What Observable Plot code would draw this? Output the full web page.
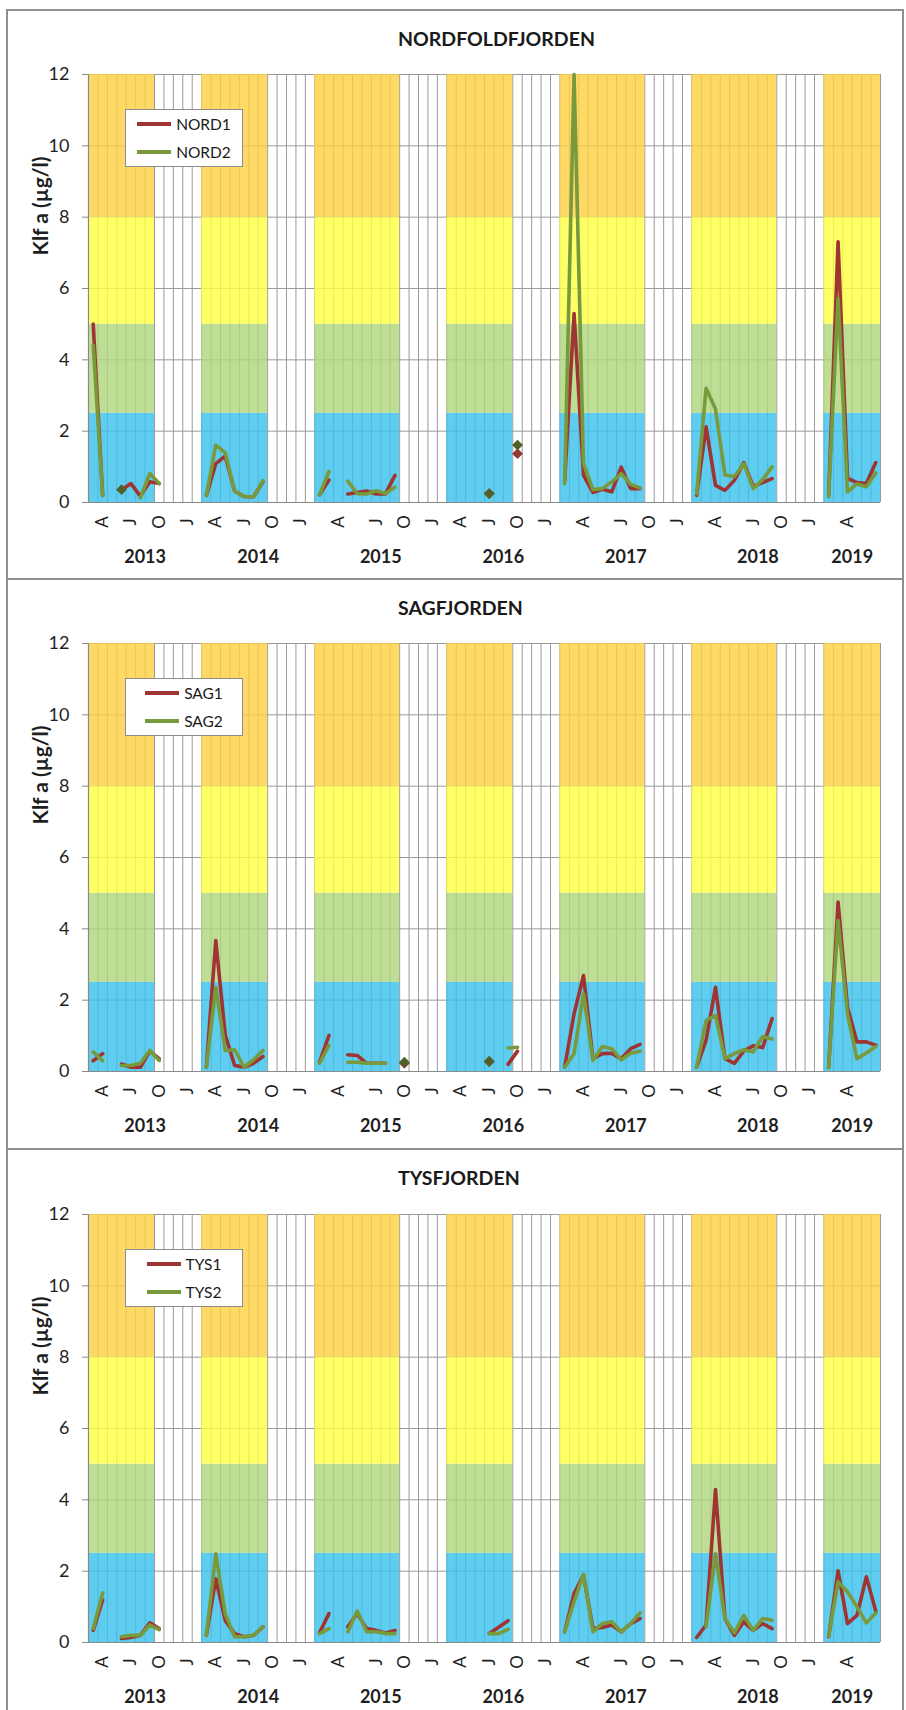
<!DOCTYPE html>
<html lang="no">
<head>
<meta charset="utf-8">
<title>Klorofyll a – Nordfoldfjorden, Sagfjorden, Tysfjorden</title>
<script src="https://cdn.jsdelivr.net/npm/d3@7"></script>
<script src="https://cdn.jsdelivr.net/npm/@observablehq/plot@0.6"></script>
<style>
  html, body { margin: 0; padding: 0; background: #fff; }
  #page { position: relative; width: 906px; height: 1710px; overflow: hidden;
          font-family: Lato, "Open Sans", sans-serif; color: #1a1a1a; }
  .frame { position: absolute; left: 6px; width: 898px; border: 2px solid #8f8f8f; box-sizing: border-box; }
  .title { position: absolute; font-weight: 700; font-size: 19.5px; line-height: 24px; height: 24px; white-space: nowrap; }
  .chart { position: absolute; left: 0; }
  .legend { position: absolute; width: 118px; height: 58px; background: #fff; border: 1px solid #8c8c8c;
            box-sizing: border-box; display: flex; flex-direction: column; align-items: center; justify-content: center; }
  .legend .item { height: 28px; display: flex; align-items: center; font-size: 15.5px; }
  .legend .swatch { width: 34px; height: 3.5px; margin-right: 5px; }
</style>
</head>
<body>
<div id="page"></div>
<script>
// Sampling slots on the category axis, one per visit (March–February seasons);
// "a"/"b" mark two visits in the same month.
const periods = [
  "2013-03","2013-04","2013-05","2013-06","2013-07","2013-08","2013-09","2013-10","2013-11","2013-12","2014-01","2014-02",
  "2014-03","2014-04","2014-05","2014-06","2014-07","2014-08","2014-09","2014-10","2014-11","2014-12","2015-01","2015-02",
  "2015-03a","2015-03b","2015-04","2015-05a","2015-05b","2015-06","2015-07","2015-08","2015-09","2015-10","2015-11","2015-12","2016-01","2016-02",
  "2016-03","2016-04","2016-05","2016-06","2016-07","2016-08","2016-09","2016-10","2016-11","2016-12","2017-01","2017-02",
  "2017-03a","2017-03b","2017-04","2017-05a","2017-05b","2017-06","2017-07","2017-08","2017-09","2017-10","2017-11","2017-12","2018-01","2018-02",
  "2018-03a","2018-03b","2018-04","2018-05a","2018-05b","2018-06","2018-07","2018-08","2018-09","2018-10","2018-11","2018-12","2019-01","2019-02",
  "2019-03a","2019-03b","2019-04","2019-05a","2019-05b","2019-06"
];

// Chlorophyll a (µg/l), one value per slot, null = not sampled
const NORD1 = [
  5.0, 0.2, null, 0.35, 0.53, 0.18, 0.58, 0.53, null, null, null, null,
  0.2, 1.09, 1.3, 0.32, 0.17, 0.16, 0.58, null, null, null, null, null,
  0.22, 0.63, null, 0.24, 0.28, 0.32, 0.24, 0.24, 0.76, null, null, null, null, null,
  null, null, null, null, 0.25, null, null, 1.37, null, null, null, null,
  0.6, 5.3, 0.77, 0.28, 0.37, 0.3, 0.99, 0.39, 0.39, null, null, null, null, null,
  0.2, 2.12, 0.48, 0.34, 0.62, 1.12, 0.45, 0.56, 0.67, null, null, null, null, null,
  0.2, 7.31, 0.68, 0.56, 0.53, 1.12
];
const NORD2 = [
  4.41, 0.2, null, 0.36, null, 0.13, 0.81, 0.53, null, null, null, null,
  0.2, 1.61, 1.4, 0.32, 0.17, 0.16, 0.61, null, null, null, null, null,
  0.22, 0.87, null, 0.6, 0.25, 0.24, 0.33, 0.25, 0.43, null, null, null, null, null,
  null, null, null, null, 0.25, null, null, 1.61, null, null, null, null,
  0.53, 12.0, 1.09, 0.36, 0.39, 0.58, 0.81, 0.51, 0.41, null, null, null, null, null,
  0.25, 3.2, 2.62, 0.77, 0.73, 1.09, 0.39, 0.64, 1.0, null, null, null, null, null,
  0.16, 5.72, 0.3, 0.52, 0.44, 0.83
];
const SAG1 = [
  0.3, 0.5, null, 0.21, 0.12, 0.12, 0.57, 0.36, null, null, null, null,
  0.12, 3.67, 1.03, 0.17, 0.12, 0.23, 0.42, null, null, null, null, null,
  0.26, 1.01, null, 0.47, 0.45, 0.23, 0.23, 0.23, null, 0.23, null, null, null, null,
  null, null, null, null, 0.28, null, 0.2, 0.57, null, null, null, null,
  0.12, 1.62, 2.69, 0.36, 0.5, 0.51, 0.36, 0.64, 0.76, null, null, null, null, null,
  0.12, 0.87, 2.36, 0.36, 0.23, 0.58, 0.72, 0.67, 1.48, null, null, null, null, null,
  0.12, 4.75, 1.8, 0.83, 0.83, 0.74
];
const SAG2 = [
  0.55, 0.3, null, 0.17, 0.17, 0.23, 0.59, 0.31, null, null, null, null,
  0.12, 2.36, 0.59, 0.61, 0.12, 0.33, 0.59, null, null, null, null, null,
  0.23, 0.73, null, 0.26, 0.26, 0.23, 0.23, 0.23, null, 0.26, null, null, null, null,
  null, null, null, null, 0.28, null, 0.66, 0.68, null, null, null, null,
  0.12, 0.5, 2.18, 0.31, 0.7, 0.64, 0.33, 0.51, 0.57, null, null, null, null, null,
  0.12, 1.43, 1.57, 0.36, 0.5, 0.61, 0.55, 0.98, 0.91, null, null, null, null, null,
  0.1, 4.23, 1.6, 0.36, 0.52, 0.7
];
const TYS1 = [
  0.34, 1.19, null, 0.11, 0.14, 0.2, 0.55, 0.39, null, null, null, null,
  0.2, 1.79, 0.62, 0.25, 0.16, 0.2, 0.44, null, null, null, null, null,
  0.27, 0.81, null, 0.44, 0.81, 0.39, 0.34, 0.27, 0.34, null, null, null, null, null,
  null, null, null, null, 0.25, 0.43, 0.61, null, null, null, null, null,
  0.3, 1.37, 1.89, 0.39, 0.42, 0.49, 0.3, 0.53, 0.67, null, null, null, null, null,
  0.14, 0.49, 4.29, 0.67, 0.2, 0.58, 0.34, 0.53, 0.39, null, null, null, null, null,
  0.16, 2.01, 0.53, 0.76, 1.84, 0.88
];
const TYS2 = [
  0.39, 1.39, null, 0.16, 0.2, 0.2, 0.49, 0.36, null, null, null, null,
  0.2, 2.49, 0.81, 0.16, 0.16, 0.2, 0.44, null, null, null, null, null,
  0.25, 0.39, null, 0.3, 0.88, 0.3, 0.3, 0.25, 0.25, null, null, null, null, null,
  null, null, null, null, 0.25, 0.25, 0.37, null, null, null, null, null,
  0.3, 1.14, 1.91, 0.3, 0.53, 0.58, 0.3, 0.53, 0.83, null, null, null, null, null,
  null, 0.44, 2.49, 0.67, 0.27, 0.76, 0.34, 0.67, 0.62, null, null, null, null, null,
  0.18, 1.7, 1.42, 1.0, 0.55, 0.83
];

// Condition classes for chlorophyll a (upper limits) and their colours
const classLimits = [0, 2.5, 5, 8, 12];
const classColors = ["#37C1EC", "#AED67C", "#FFFF40", "#FFD040"];
const yTicks = [0, 2, 4, 6, 8, 10, 12];
const monthLetters = {1: "J", 4: "A", 7: "J", 10: "O"};
const yLabel = "Klf a (µg/l)";

const panels = [
  {title: "NORDFOLDFJORDEN", stations: ["NORD1", "NORD2"], series: [NORD1, NORD2], frameTop: 9,    frameHeight: 571, yTop: 74},
  {title: "SAGFJORDEN",      stations: ["SAG1", "SAG2"],   series: [SAG1, SAG2],   frameTop: 578,  frameHeight: 572, yTop: 643},
  {title: "TYSFJORDEN",      stations: ["TYS1", "TYS2"],   series: [TYS1, TYS2],   frameTop: 1148, frameHeight: 600, yTop: 1214}
];

const lineColors = ["#9E3532", "#789A3C"];
const markerColors = ["#953735", "#4F6228"];
const gridColor = "#9a9a9a";

// Derived slot attributes
const slots = periods.map((p, i) => {
  const year = +p.slice(0, 4), month = +p.slice(5, 7);
  return {i, p, year, month, inSeason: month >= 3 && month <= 9, seasonYear: month >= 3 ? year : year - 1};
});
const monthTicks = slots
  .filter((s, k) => monthLetters[s.month] && !(k > 0 && slots[k - 1].month === s.month))
  .map(s => ({x: s.i + 0.5, label: monthLetters[s.month]}));
const yearTicks = d3.rollups(slots, v => d3.mean(v, s => s.i + 0.5), s => s.seasonYear)
  .map(([y, x]) => ({x, label: String(y)}));
const seasonRuns = [];
for (const s of slots) {
  if (!s.inSeason) continue;
  const last = seasonRuns[seasonRuns.length - 1];
  if (last && last.x2 === s.i) last.x2 = s.i + 1;
  else seasonRuns.push({x1: s.i, x2: s.i + 1});
}

const page = document.getElementById("page");
const nSlots = periods.length;
const marginTop = 20, plotH = 428, marginBottom = 70, marginLeft = 88, marginRight = 26;

for (const panel of panels) {
  const frame = document.createElement("div");
  frame.className = "frame";
  frame.style.top = panel.frameTop + "px";
  frame.style.height = panel.frameHeight + "px";
  page.appendChild(frame);

  const title = document.createElement("div");
  title.className = "title";
  title.textContent = panel.title;
  title.style.left = "398px";
  title.style.top = (panel.frameTop + 18) + "px";
  page.appendChild(title);

  const isolated = [];
  panel.series.forEach((vals, k) => {
    vals.forEach((v, i) => {
      if (v != null && vals[i - 1] == null && vals[i + 1] == null) isolated.push({x: i + 0.5, y: v, k});
    });
  });

  const svg = Plot.plot({
    width: 906,
    height: marginTop + plotH + marginBottom,
    marginLeft, marginRight, marginTop, marginBottom,
    x: {domain: [0, nSlots], axis: null},
    y: {domain: [0, 12], axis: null},
    style: {background: "transparent", fontFamily: "Lato, 'Open Sans', sans-serif", fontSize: "18px", color: "#1f1f1f", overflow: "visible"},
    marks: [
      Plot.ruleX(d3.range(0, nSlots + 1), {y1: 0, y2: 12, stroke: gridColor, strokeWidth: 1}),
      Plot.ruleY(yTicks.slice(1), {x1: 0, x2: nSlots, stroke: gridColor, strokeWidth: 1}),
      ...classColors.map((c, b) => Plot.rect(seasonRuns, {
        x1: "x1", x2: "x2", y1: classLimits[b], y2: classLimits[b + 1], fill: c, fillOpacity: 0.8
      })),
      Plot.ruleY([0], {x1: 0, x2: nSlots, stroke: "#8a8a8a", strokeWidth: 1.2}),
      Plot.ruleX([0], {y1: 0, y2: 12, stroke: "#8a8a8a", strokeWidth: 1.2}),
      Plot.axisY({ticks: yTicks, tickSize: 6, tickPadding: 13, stroke: "#8a8a8a", fill: "#1f1f1f", fontSize: 18, label: null}),
      Plot.text([yLabel], {text: d => d, frameAnchor: "left", dx: -47.5, dy: -33, rotate: -90,
        fontSize: 21, fontWeight: "bold", fill: "#1f1f1f"}),
      Plot.text(monthTicks, {x: "x", y: 0, dy: 19.5, rotate: -90, text: "label", fontSize: 17, fill: "#1f1f1f"}),
      Plot.text(yearTicks, {x: "x", y: 0, dy: 55, text: "label", fontSize: 18, fontWeight: "bold", fill: "#1f1f1f"}),
      ...panel.series.map((vals, k) => Plot.line(slots, {
        x: s => s.i + 0.5, y: s => vals[s.i], stroke: lineColors[k], strokeWidth: 3.6
      })),
      Plot.dot(isolated, {x: "x", y: "y", symbol: "square", rotate: 45, r: 4.3,
        fill: d => markerColors[d.k], stroke: "none"})
    ]
  });
  svg.classList.add("chart");
  svg.style.top = (panel.yTop - marginTop) + "px";
  page.appendChild(svg);

  const legend = document.createElement("div");
  legend.className = "legend";
  legend.style.left = "125px";
  legend.style.top = (panel.yTop + 35) + "px";
  panel.stations.forEach((name, k) => {
    const item = document.createElement("div");
    item.className = "item";
    const sw = document.createElement("span");
    sw.className = "swatch";
    sw.style.background = lineColors[k];
    const tx = document.createElement("span");
    tx.textContent = name;
    item.appendChild(sw);
    item.appendChild(tx);
    legend.appendChild(item);
  });
  page.appendChild(legend);
}
</script>
</body>
</html>
